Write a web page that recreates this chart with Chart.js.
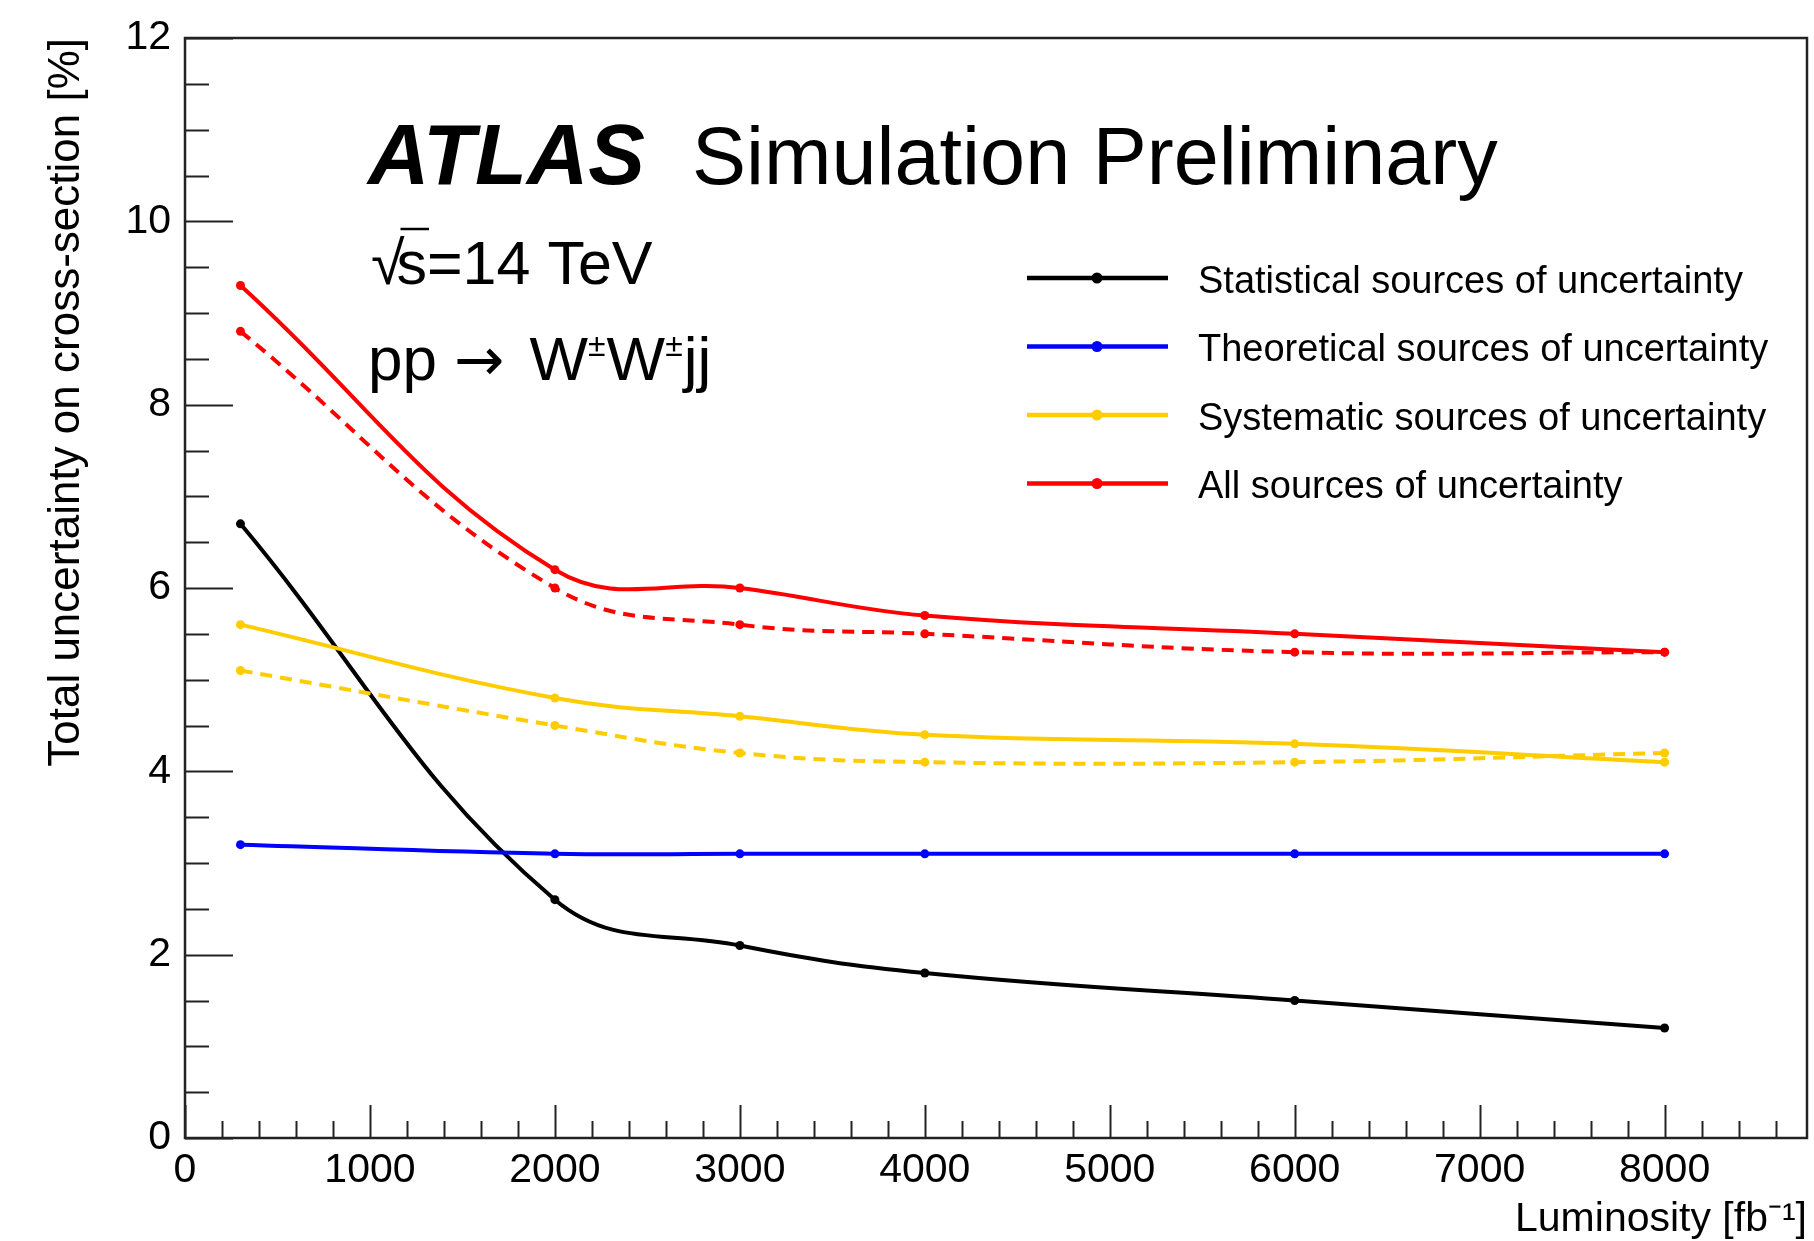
<!DOCTYPE html>
<html>
<head>
<meta charset="utf-8">
<title>Uncertainty on the W±W±jj cross-section vs luminosity</title>
<script src="https://cdn.jsdelivr.net/npm/chart.js@4.4.1/dist/chart.umd.min.js"></script>
<style>
  html, body { margin: 0; padding: 0; background: #fff; }
  #wrap { position: relative; width: 1814px; height: 1241px; }
</style>
</head>
<body>
<div id="wrap"><canvas id="unc_chart"></canvas></div>
<script>
// integrated luminosity [fb^-1]
var lumi = [300, 2000, 3000, 4000, 6000, 8000];

// total uncertainty on the cross-section [%]
var statUnc  = [6.7, 2.6, 2.1, 1.8, 1.5, 1.2];
var theoUnc  = [3.2, 3.1, 3.1, 3.1, 3.1, 3.1];
var systUnc  = [5.6, 4.8, 4.6, 4.4, 4.3, 4.1];
var systUnc2 = [5.1, 4.5, 4.2, 4.1, 4.1, 4.2]; // dashed
var allUnc   = [9.3, 6.2, 6.0, 5.7, 5.5, 5.3];
var allUnc2  = [8.8, 6.0, 5.6, 5.5, 5.3, 5.3]; // dashed

var xTicks = [0, 1000, 2000, 3000, 4000, 5000, 6000, 7000, 8000];
var yTicks = [0, 2, 4, 6, 8, 10, 12];

var legendLabels = [
    "Statistical sources of uncertainty",
    "Theoretical sources of uncertainty",
    "Systematic sources of uncertainty",
    "All sources of uncertainty"
];
var legendColors = ['#000000', '#0000ff', '#ffcc00', '#ff0000'];

var FONT = '"Liberation Sans", Arial, Helvetica, sans-serif';

function pts(ys) {
    return lumi.map(function(x, i) { return { x: x, y: ys[i] }; });
}

function series(label, ys, color, dashed) {
    return {
        label: label,
        data: pts(ys),
        borderColor: color,
        backgroundColor: color,
        borderWidth: 4,
        borderDash: dashed ? [12, 8] : [],
        pointRadius: 4.5,
        pointBorderWidth: 0,
        pointBackgroundColor: color,
        tension: 0.4,
        fill: false
    };
}

/////////////////////////////////////////////////////////

// ROOT style frame with ticks on the inside
var frameTicks = {
    id: 'frameTicks',
    beforeDatasetsDraw: function(chart) {
        var ctx = chart.ctx, a = chart.chartArea;
        var xs = chart.scales.x, ys = chart.scales.y;
        ctx.save();
        ctx.strokeStyle = '#222';
        ctx.lineWidth = 2;
        ctx.beginPath();
        for (var v = 0; v <= xs.max; v += 200) {
            var px = Math.round(xs.getPixelForValue(v)) + 0.5;
            var len = v % 1000 === 0 ? 33 : 17;
            ctx.moveTo(px, a.bottom);
            ctx.lineTo(px, a.bottom - len);
        }
        for (var w = 0; w <= ys.max; w += 0.5) {
            var py = Math.round(ys.getPixelForValue(w)) + 0.5;
            var l2 = w % 2 === 0 ? 48 : 24;
            ctx.moveTo(a.left, py);
            ctx.lineTo(a.left + l2, py);
        }
        ctx.stroke();
        ctx.lineWidth = 2.5;
        ctx.strokeRect(a.left, a.top, a.right - a.left, a.bottom - a.top);
        ctx.restore();
    }
};

// experiment label, process text and the legend box
var plotText = {
    id: 'plotText',
    afterDraw: function(chart) {
        var ctx = chart.ctx;
        ctx.save();
        ctx.fillStyle = '#000';
        ctx.textBaseline = 'alphabetic';
        ctx.textAlign = 'left';

        ctx.font = 'italic bold 85px ' + FONT;
        ctx.fillText('ATLAS', 368, 184);
        ctx.font = '81px ' + FONT;
        ctx.fillText('Simulation Preliminary', 692, 184);

        // sqrt(s) = 14 TeV
        ctx.font = '61px ' + FONT;
        var x0 = 371;
        ctx.fillText('\u221A', x0, 284);
        var rw = ctx.measureText('\u221A').width;
        var sx = x0 + rw - 8;
        ctx.fillText('s=14 TeV', sx, 284);
        var sw = ctx.measureText('s').width;
        ctx.strokeStyle = '#000';
        ctx.lineWidth = 2.5;
        ctx.beginPath();
        ctx.moveTo(x0 + rw - 4, 229);
        ctx.lineTo(sx + sw + 2, 229);
        ctx.stroke();

        // pp -> W+-W+-jj
        var px = 368, base = 380;
        var parts = [
            ['pp ', '62px ' + FONT, 0, 0],
            ['\u2192', '60px "DejaVu Sans", ' + FONT, 0, 6],
            ['W', '62px ' + FONT, 0, 0],
            ['\u00B1', '32px ' + FONT, 24, 1],
            ['W', '62px ' + FONT, 0, 0],
            ['\u00B1', '32px ' + FONT, 24, 1],
            ['jj', '62px ' + FONT, 0, 0]
        ];
        parts.forEach(function(p) {
            ctx.font = p[1];
            ctx.fillText(p[0], px, base - p[2]);
            px += ctx.measureText(p[0]).width + p[3];
            if (p[0] === '\u2192') px += ctx.measureText(' ').width;
        });

        // legend
        ctx.font = '38px ' + FONT;
        for (var i = 0; i < legendLabels.length; i++) {
            var ry = 278 + i * 68.5;
            ctx.strokeStyle = legendColors[i];
            ctx.fillStyle = legendColors[i];
            ctx.lineWidth = 4.5;
            ctx.beginPath();
            ctx.moveTo(1027, ry);
            ctx.lineTo(1168, ry);
            ctx.stroke();
            ctx.beginPath();
            ctx.arc(1097, ry, 5.5, 0, Math.PI * 2);
            ctx.fill();
            ctx.fillStyle = '#000';
            ctx.fillText(legendLabels[i], 1198, ry + 14.5);
        }
        ctx.restore();
    }
};

var uncCanvas = document.getElementById("unc_chart");

var uncData = {
    datasets: [
        series("All sources of uncertainty", allUnc, legendColors[3], false),
        series("All sources of uncertainty (alt.)", allUnc2, legendColors[3], true),
        series("Systematic sources of uncertainty", systUnc, legendColors[2], false),
        series("Systematic sources of uncertainty (alt.)", systUnc2, legendColors[2], true),
        series("Theoretical sources of uncertainty", theoUnc, legendColors[1], false),
        series("Statistical sources of uncertainty", statUnc, legendColors[0], false)
    ]
};

var chartOptions = {
    responsive: true,
    maintainAspectRatio: false,
    animation: false,
    layout: { padding: { left: 0, top: 38, right: 7, bottom: 0 } },
    plugins: {
        legend: { display: false },
        tooltip: { enabled: false }
    },
    scales: {
        x: {
            type: 'linear',
            min: 0,
            max: 8770,
            afterBuildTicks: function(s) {
                s.ticks = xTicks.map(function(v) { return { value: v }; });
            },
            afterFit: function(s) { s.height = 103; },
            grid: { display: false },
            border: { display: false },
            ticks: {
                color: '#000',
                padding: 0,
                maxRotation: 0,
                autoSkip: false,
                font: { family: FONT, size: 41 },
                callback: function(v) { return String(v); }
            },
            title: {
                display: true,
                text: 'Luminosity [fb\u207B\u00B9]',
                align: 'end',
                color: '#000',
                font: { family: FONT, size: 41, lineHeight: 1 },
                padding: { top: 0, bottom: 1 }
            }
        },
        y: {
            min: 0,
            max: 12,
            afterBuildTicks: function(s) {
                s.ticks = yTicks.map(function(v) { return { value: v }; });
            },
            afterFit: function(s) { s.width = 185; },
            grid: { display: false },
            border: { display: false },
            ticks: {
                color: '#000',
                padding: 6,
                font: { family: FONT, size: 41 },
                callback: function(v) { return String(v); }
            },
            title: {
                display: true,
                text: 'Total uncertainty on cross-section [%]',
                align: 'end',
                color: '#000',
                font: { family: FONT, size: 44 },
                padding: { top: 40, bottom: 0 }
            }
        }
    }
};

var lineChart = new Chart(uncCanvas, {
    type: 'line',
    data: uncData,
    options: chartOptions,
    plugins: [frameTicks, plotText]
});
</script>
</body>
</html>
